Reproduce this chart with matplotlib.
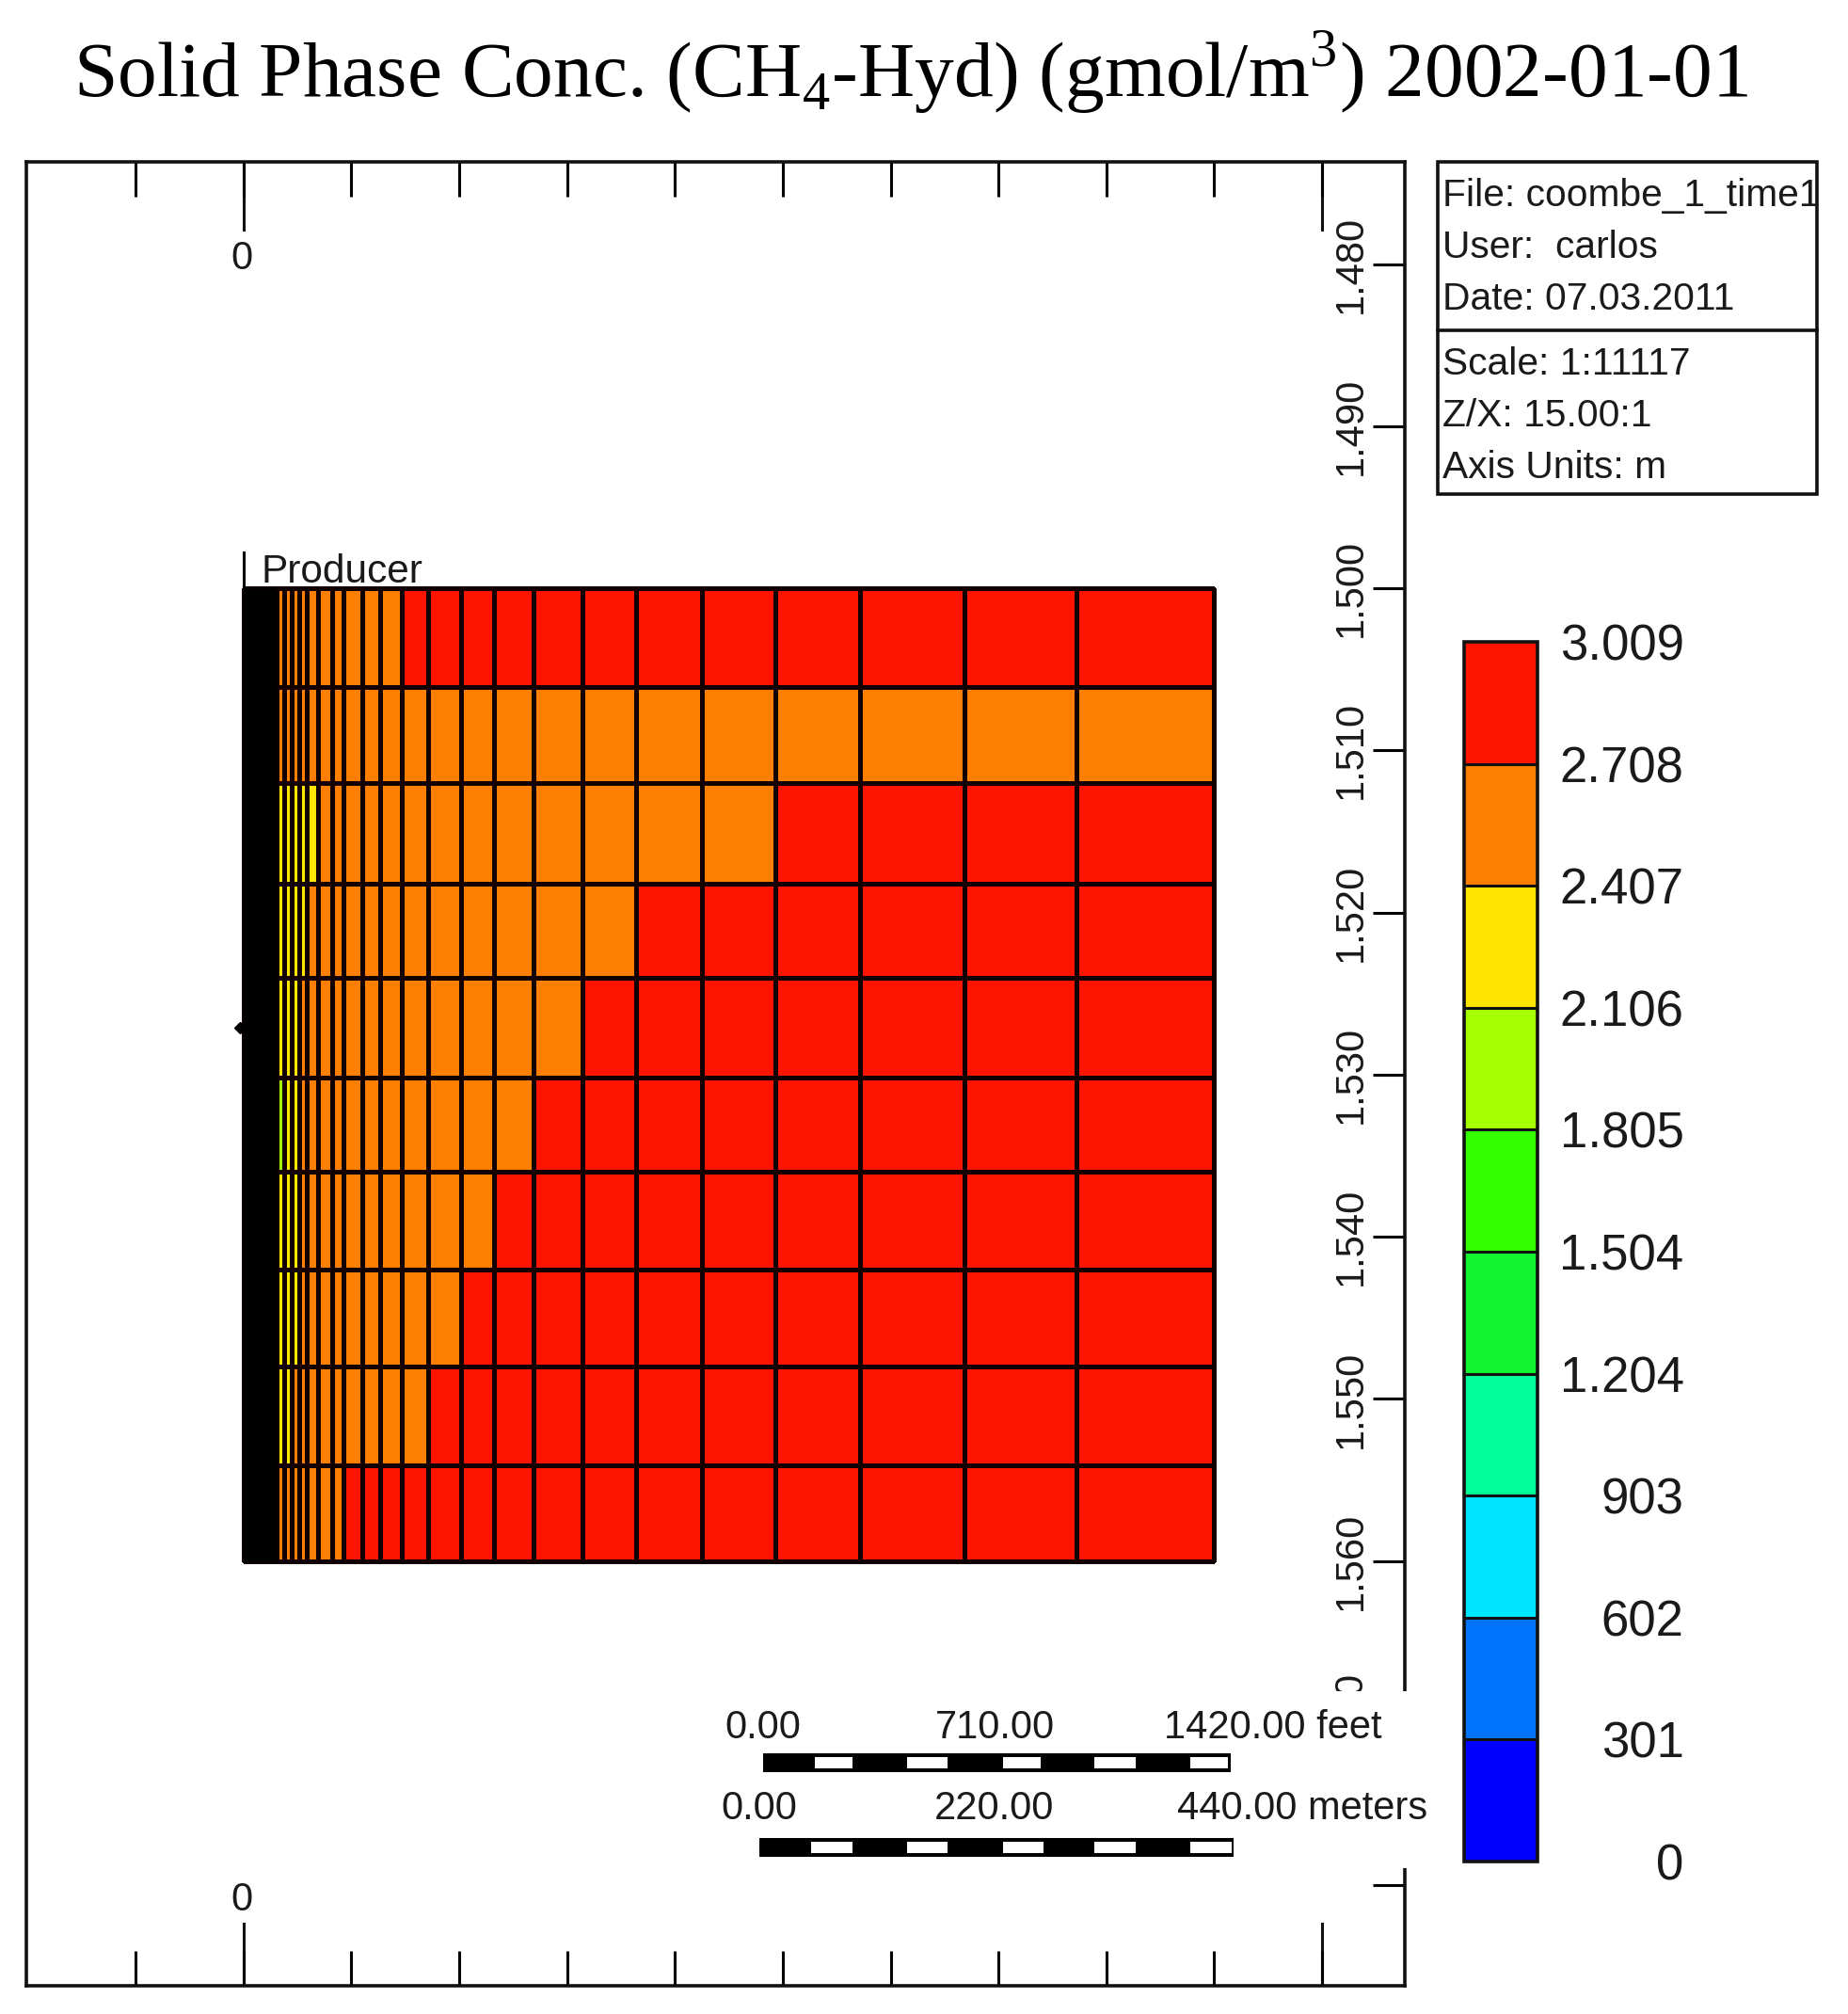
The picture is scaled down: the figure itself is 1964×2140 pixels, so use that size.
import matplotlib
matplotlib.use("Agg")
import matplotlib.pyplot as plt
from matplotlib.colors import ListedColormap, BoundaryNorm
from matplotlib.colorbar import ColorbarBase
from matplotlib.patches import Rectangle

W, H = 1964, 2140
plt.rcParams['font.family'] = ['Liberation Sans', 'DejaVu Sans']
plt.rcParams['mathtext.fontset'] = 'custom'
plt.rcParams['mathtext.rm'] = 'Liberation Serif'

# colour classes of the legend
levels = [0, 301, 602, 903, 1204, 1504, 1805, 2106, 2407, 2708, 3009]
level_labels = ['0', '301', '602', '903', '1.204', '1.504', '1.805', '2.106', '2.407', '2.708', '3.009']
level_colors = ['#0000ff', '#0073ff', '#00e5ff', '#00ff99', '#10f530', '#33ff00',
                '#a6ff00', '#ffe600', '#ff7f00', '#ff1400']

# grid edges in metres, dense near the well
well_edges = [0, 2, 4, 6, 8, 10, 12, 14, 16, 18, 20, 22, 24, 26, 28, 30, 31]
outer_edges = [38, 45, 51.5, 58.5, 69, 82.5, 92.5, 110, 127, 147, 171, 202, 232,
               269, 314, 364, 425, 493, 572, 668, 772, 900]
z_edges = [1500, 1506.1, 1512, 1518.2, 1524, 1530.2, 1536, 1542, 1548, 1554.1, 1560]

R = 2860   # red class
O = 2560   # orange class
Y = 2250   # yellow class
G = 1950   # yellow green class

# hydrate concentration for the cells right of the dense well block, one row per layer
outer_values = [
    [O, O, O, O, O, O, O, O, O, O, R, R, R, R, R, R, R, R, R, R, R, R],
    [O, O, O, O, O, O, O, O, O, O, O, O, O, O, O, O, O, O, O, O, O, O],
    [Y, Y, Y, Y, Y, O, O, O, O, O, O, O, O, O, O, O, O, O, R, R, R, R],
    [Y, Y, Y, Y, O, O, O, O, O, O, O, O, O, O, O, O, R, R, R, R, R, R],
    [Y, Y, Y, O, O, O, O, O, O, O, O, O, O, O, O, R, R, R, R, R, R, R],
    [G, Y, Y, O, O, O, O, O, O, O, O, O, O, O, R, R, R, R, R, R, R, R],
    [Y, Y, Y, O, O, O, O, O, O, O, O, O, O, R, R, R, R, R, R, R, R, R],
    [Y, Y, Y, O, O, O, O, O, O, O, O, O, R, R, R, R, R, R, R, R, R, R],
    [Y, Y, O, O, O, O, O, O, O, O, O, R, R, R, R, R, R, R, R, R, R, R],
    [O, O, O, O, O, O, O, R, R, R, R, R, R, R, R, R, R, R, R, R, R, R],
]
well_value = 50

x_ticks = [-100, 0, 100, 200, 300, 400, 500, 600, 700, 800, 900, 1000]
x_long_ticks = [0, 1000]
z_ticks = [1480, 1490, 1500, 1510, 1520, 1530, 1540, 1550, 1560, 1570, 1580]
z_labels = ['1.480', '1.490', '1.500', '1.510', '1.520', '1.530', '1.540', '1.550', '1.560']

info_top = ['File: coombe_1_time1', 'User:  carlos', 'Date: 07.03.2011']
info_bottom = ['Scale: 1:11117', 'Z/X: 15.00:1', 'Axis Units: m']

feet_labels = ['0.00', '710.00', '1420.00 feet']
meter_labels = ['0.00', '220.00', '440.00 meters']

FS = 30
LW = 2.2
INK = '#1a1a1a'


def fig_rect(x0, y0, x1, y1):
    return [x0 / W, 1 - y1 / H, (x1 - x0) / W, (y1 - y0) / H]


fig = plt.figure(figsize=(W / 100, H / 100), dpi=100, facecolor='white')

# main section
ax = fig.add_axes(fig_rect(28, 172, 1493, 2110))
ax.set_xlim(-201.4, 1076.7)
ax.set_ylim(1586.2, 1473.7)

cmap = ListedColormap(level_colors)
norm = BoundaryNorm(levels, cmap.N)

x_edges = well_edges + outer_edges
values = [[well_value] * (len(well_edges) - 1) + row for row in outer_values]
ax.pcolormesh(x_edges, z_edges, values, cmap=cmap, norm=norm,
              edgecolors='#120000', linewidth=LW)
ax.fill_betweenx([1500, 1560], 0, 31, color='black', zorder=3)

for s in ax.spines.values():
    s.set_linewidth(2.6)
    s.set_color('#111111')

ax.set_xticks(x_ticks)
ax.set_xticklabels([])
ax.tick_params(axis='x', which='major', direction='in', top=True, bottom=True,
               length=37 * 0.72, width=LW)
ax.set_yticks(z_ticks)
ax.set_yticklabels([])
ax.tick_params(axis='y', direction='in', left=False, right=True, length=34 * 0.72, width=LW)

# longer ticks every 1000 m
for xv in x_long_ticks:
    ax.plot([xv, xv], [1473.7, 1473.7 + 72 / 17.23], color='#111111', lw=LW, zorder=1)
    ax.plot([xv, xv], [1586.2, 1586.2 - 66 / 17.23], color='#111111', lw=LW, zorder=1)

ax.text(-2, 1479.7, '0', fontsize=FS, ha='center', va='center', color=INK)
ax.text(-2, 1580.9, '0', fontsize=FS, ha='center', va='center', color=INK)

for zv, lab in zip(z_ticks, z_labels):
    ax.text(1027, zv, lab, fontsize=FS, rotation=90, ha='center', va='center', color=INK)
# only the end of the 1.570 label shows above the scale bar block
ax.text(1027, 1567.6, '0', fontsize=FS, rotation=90, ha='center', va='center', color=INK)

# well and completion
ax.plot([0, 0], [1497.8, 1500], color='black', lw=LW)
ax.plot([-3], [1527.1], marker='D', ms=6, color='black', clip_on=False)
ax.text(16.5, 1499.0, 'Producer', fontsize=30.5, ha='left', va='center', color=INK)

# legend bar
cax = fig.add_axes(fig_rect(1556, 682, 1634, 1978))
cb = ColorbarBase(cax, cmap=cmap, norm=norm, ticks=levels, spacing='uniform', drawedges=True)
cb.outline.set_linewidth(2.6)
cb.outline.set_edgecolor('#111111')
cb.dividers.set_linewidth(LW)
cb.dividers.set_color('#111111')
cax.set_yticklabels(level_labels, fontsize=38, ha='right', color=INK)
cax.tick_params(axis='y', length=0, pad=112)

# overlay in figure pixels for title, info box and scale bars
ov = fig.add_axes([0, 0, 1, 1])
ov.set_xlim(0, W)
ov.set_ylim(H, 0)
ov.axis('off')

ov.text(968, 77, r'Solid Phase Conc. (CH$_{\mathrm{4}}$-Hyd) (gmol/m$^{\mathrm{3}}$) 2002-01-01',
        family='Liberation Serif', fontsize=60, ha='center', va='center', color='black')

ov.add_patch(Rectangle((1528, 172), 403, 353, fc='white', ec='#111111', lw=2.6))
ov.plot([1528, 1931], [351, 351], color='#111111', lw=2.6)
for lab, y in zip(info_top, [208, 263, 318]):
    ov.text(1533, y, lab, fontsize=29.3, ha='left', va='center', color=INK)
for lab, y in zip(info_bottom, [387, 442, 497]):
    ov.text(1533, y, lab, fontsize=29.3, ha='left', va='center', color=INK)

# white block behind the scale bars hides the axis line and the 1.570 tick
ov.add_patch(Rectangle((760, 1797), 760, 188, fc='white', ec='none'))

ov.text(811, 1836, feet_labels[0], fontsize=FS, ha='center', va='center', color=INK)
ov.text(1057, 1836, feet_labels[1], fontsize=FS, ha='center', va='center', color=INK)
ov.text(1469, 1836, feet_labels[2], fontsize=FS, ha='right', va='center', color=INK)
ov.text(807, 1922, meter_labels[0], fontsize=FS, ha='center', va='center', color=INK)
ov.text(1057, 1922, meter_labels[1], fontsize=FS, ha='center', va='center', color=INK)
ov.text(1517, 1922, meter_labels[2], fontsize=FS, ha='right', va='center', color=INK)

ov.add_patch(Rectangle((811, 1863), 497, 20, fc='black', ec='none'))
ov.add_patch(Rectangle((807, 1953), 504, 20, fc='black', ec='none'))
for x0, x1 in [(866, 906), (964, 1007), (1066, 1106), (1163, 1207), (1265, 1305)]:
    ov.add_patch(Rectangle((x0, 1867), x1 - x0, 12, fc='white', ec='none'))
for x0, x1 in [(862, 906), (964, 1007), (1066, 1109), (1163, 1207), (1265, 1309)]:
    ov.add_patch(Rectangle((x0, 1957), x1 - x0, 12, fc='white', ec='none'))

fig.savefig('out.png', dpi=100)
